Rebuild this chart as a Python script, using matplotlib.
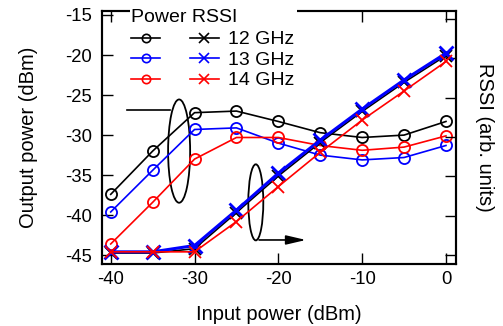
import matplotlib
matplotlib.use("Agg")
import matplotlib.pyplot as plt
from matplotlib.patches import Ellipse
from matplotlib.lines import Line2D
from matplotlib.legend_handler import HandlerTuple

plt.rcParams["font.family"] = ["Liberation Sans", "DejaVu Sans"]
plt.rcParams["axes.unicode_minus"] = False

pin = [-40, -35, -30, -25, -20, -15, -10, -5, 0]  # input power, dBm

# output power (dBm), left axis
pout_12 = [-37.4, -32.0, -27.2, -27.0, -28.3, -29.7, -30.3, -30.0, -28.3]
pout_13 = [-39.6, -34.4, -29.3, -29.1, -31.0, -32.5, -33.1, -32.8, -31.3]
pout_14 = [-43.6, -38.4, -33.0, -30.3, -30.3, -31.3, -31.9, -31.5, -30.1]

# RSSI (arb. units), right axis
rssi_12 = [0.05, 0.05, 0.16, 1.08, 2.01, 2.86, 3.65, 4.39, 5.07]
rssi_13 = [0.08, 0.08, 0.24, 1.14, 2.08, 2.92, 3.71, 4.45, 5.13]
rssi_14 = [0.08, 0.08, 0.08, 0.85, 1.74, 2.61, 3.43, 4.17, 4.92]

freqs = ["12 GHz", "13 GHz", "14 GHz"]
colors = ["black", "blue", "red"]

fig = plt.figure(figsize=(5.03, 3.26), dpi=100)
ax = fig.add_axes([0.2018, 0.1902, 0.7048, 0.7761])
ax2 = ax.twinx()

for p, c in zip([pout_12, pout_13, pout_14], colors):
    ax.plot(pin, p, color=c, lw=1.2, marker="o", ms=8, mfc="none",
            mec=c, mew=1.3)

# blue RSSI is drawn heavier; red sits on top
ax2.plot(pin, rssi_12, color="black", lw=1.2, marker="x", ms=9, mew=1.3,
         zorder=2.2)
ax2.plot(pin, rssi_13, color="blue", lw=2.2, marker="x", ms=10, mew=2.0,
         zorder=2.4)
ax2.plot(pin, rssi_14, color="red", lw=1.2, marker="x", ms=9, mew=1.3,
         zorder=2.6)

ax.set_xlim(-41.1, 1.2)
ax.set_ylim(-46.1, -14.5)
ax.set_xticks([-40, -30, -20, -10, 0])
ax.set_yticks([-15, -20, -25, -30, -35, -40, -45])
ax2.set_ylim(-0.229, 6.204)
ax2.set_yticks(range(7))
ax2.set_yticklabels([])

for a in (ax, ax2):
    for s in a.spines.values():
        s.set_linewidth(1.5)
ax.tick_params(direction="in", length=8, width=1, labelsize=13.3,
               top=True, right=False)
ax.tick_params(axis="x", pad=5)
ax.tick_params(axis="y", pad=7)
ax2.tick_params(direction="in", length=8, width=1, left=False)

ax.set_xlabel("Input power (dBm)", fontsize=14.5, labelpad=12)
ax.set_ylabel("Output power (dBm)", fontsize=14.5, labelpad=19)
ax2.set_ylabel("RSSI (arb. units)", fontsize=14.5, rotation=-90, labelpad=24)

# annotations: ellipses grouping curves and arrows to their axes
ax.plot([-38.0, -32.9], [-26.9, -26.9], color="black", lw=1.2)
ax.add_patch(Ellipse((-31.84, -32.0), 2.63, 12.9, fill=False, lw=1.3,
                     ec="black"))
ax.add_patch(Ellipse((-22.69, -38.4), 1.79, 9.5, fill=False, lw=1.3,
                     ec="black"))
ax.annotate("", xy=(-16.7, -43.1), xytext=(-22.3, -43.1),
            arrowprops=dict(arrowstyle="-|>,head_length=1.2,head_width=0.28",
                            mutation_scale=10, color="black", lw=1.2,
                            shrinkA=0, shrinkB=0))

# legend: circle (power) and cross (RSSI) side by side per frequency
pairs = []
for c in colors:
    h_o = Line2D([], [], color=c, lw=1.2, marker="o", ms=6, mfc="none",
                 mec=c, mew=1.2)
    h_x = Line2D([], [], color=c, lw=1.2, marker="x", ms=6.5, mew=1.2)
    pairs.append((h_o, h_x))
leg = ax2.legend(pairs, freqs, title="Power RSSI",
                 handler_map={tuple: HandlerTuple(ndivide=None, pad=1.5)},
                 handlelength=4.48, handletextpad=0.5, labelspacing=0.15,
                 fontsize=14, title_fontsize=14, alignment="left",
                 loc="upper left", bbox_to_anchor=(0.079, 1.016),
                 frameon=True, fancybox=False, framealpha=1,
                 edgecolor="none", borderpad=0.1, borderaxespad=0)
leg._legend_box.sep = 3.5
leg.set_zorder(10)

fig.savefig("out.png", dpi=100)
